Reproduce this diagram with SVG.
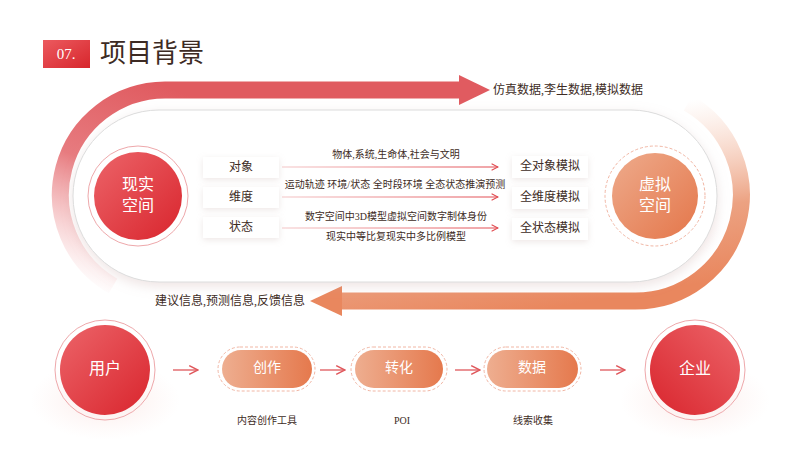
<svg xmlns="http://www.w3.org/2000/svg" width="800" height="450" viewBox="0 0 800 450">
  <defs>
    <linearGradient id="gRed" x1="0" y1="0" x2="1" y2="1">
      <stop offset="0" stop-color="#ec6469"/>
      <stop offset="1" stop-color="#d9252d"/>
    </linearGradient>
    <linearGradient id="gRedR" x1="1" y1="0" x2="0" y2="1">
      <stop offset="0" stop-color="#ec6469"/>
      <stop offset="1" stop-color="#d9252d"/>
    </linearGradient>
    <linearGradient id="gOrange" x1="0" y1="0" x2="1" y2="1">
      <stop offset="0" stop-color="#eeab8c"/>
      <stop offset="1" stop-color="#e4764a"/>
    </linearGradient>
    <linearGradient id="gPill" x1="0" y1="0" x2="1" y2="0">
      <stop offset="0" stop-color="#eeae90"/>
      <stop offset="1" stop-color="#e5794d"/>
    </linearGradient>
    <linearGradient id="gTag" x1="0" y1="0" x2="1" y2="1">
      <stop offset="0" stop-color="#ec5a5f"/>
      <stop offset="1" stop-color="#d7262c"/>
    </linearGradient>
    <linearGradient id="gTopBand" gradientUnits="userSpaceOnUse" x1="95" y1="292" x2="175" y2="90">
      <stop offset="0" stop-color="#f4b4b6" stop-opacity="0"/>
      <stop offset="0.55" stop-color="#e77b7f"/>
      <stop offset="1" stop-color="#e05b60"/>
    </linearGradient>
    <linearGradient id="gBotBand" gradientUnits="userSpaceOnUse" x1="690" y1="100" x2="720" y2="280">
      <stop offset="0" stop-color="#f6c7b2" stop-opacity="0"/>
      <stop offset="0.6" stop-color="#eca282"/>
      <stop offset="1" stop-color="#e9875e"/>
    </linearGradient>
    <linearGradient id="gLine" gradientUnits="userSpaceOnUse" x1="282" y1="0" x2="498" y2="0">
      <stop offset="0" stop-color="#f4c6c7"/>
      <stop offset="1" stop-color="#e1484e"/>
    </linearGradient>
    <radialGradient id="gGlow">
      <stop offset="0" stop-color="#f7d3d0" stop-opacity="0.5"/>
      <stop offset="1" stop-color="#fbe3e0" stop-opacity="0"/>
    </radialGradient>
    <filter id="fShadow" x="-10%" y="-20%" width="120%" height="150%">
      <feDropShadow dx="0" dy="4" stdDeviation="6" flood-color="#c9a9a6" flood-opacity="0.3"/>
    </filter>
    <filter id="fBox" x="-20%" y="-40%" width="140%" height="200%">
      <feDropShadow dx="0" dy="2" stdDeviation="3" flood-color="#c8b0ae" flood-opacity="0.3"/>
    </filter>
    <marker id="mArrow" viewBox="0 0 10 10" refX="9" refY="5" markerWidth="8" markerHeight="8" markerUnits="userSpaceOnUse" orient="auto">
      <path d="M1 1 L9 5 L1 9" fill="none" stroke="#e0474d" stroke-width="1.3"/>
    </marker>
    <marker id="mArrow2" viewBox="0 0 10 10" refX="9" refY="5" markerWidth="11" markerHeight="11" markerUnits="userSpaceOnUse" orient="auto">
      <path d="M1 1 L9 5 L1 9" fill="none" stroke="#e0585c" stroke-width="1.3"/>
    </marker>
  </defs>
  <style>
    .t { font-family: "Liberation Serif", "Noto Sans CJK SC", serif; fill: #3d2b24; }
    .w { font-family: "Liberation Serif", "Noto Sans CJK SC", serif; fill: #ffffff; }
    .box { fill: #ffffff; filter: url(#fBox); }
    .ring { fill: none; stroke: #eea8ab; stroke-width: 1; }
    .dring { fill: none; stroke: #f1b6a4; stroke-width: 1; stroke-dasharray: 3 2; }
    .ln { stroke: url(#gLine); stroke-width: 1.2; fill: none; marker-end: url(#mArrow); }
    .sh { stroke: #e36e72; stroke-width: 1.5; fill: none; marker-end: url(#mArrow2); }
  </style>

  <rect width="800" height="450" fill="#ffffff"/>

  <!-- title -->
  <g id="title">
    <rect x="43" y="40" width="47" height="28" fill="url(#gTag)"/>
    <text class="w" x="66" y="59" font-size="15" text-anchor="middle">07.</text>
    <text class="t" x="100" y="62" font-size="26">项目背景</text>
  </g>

  <!-- glows -->
  <g id="glows">
    <ellipse cx="140" cy="225" rx="70" ry="45" fill="url(#gGlow)"/>
    <ellipse cx="655" cy="225" rx="70" ry="45" fill="url(#gGlow)"/>
    <ellipse cx="105" cy="400" rx="75" ry="40" fill="url(#gGlow)"/>
    <ellipse cx="695" cy="400" rx="75" ry="40" fill="url(#gGlow)"/>
  </g>

  <!-- big flow bands -->
  <g id="flow-top">
    <path d="M113 286 A105 105 0 0 1 165 90 L460 90" fill="none" stroke="url(#gTopBand)" stroke-width="17"/>
    <polygon points="459,75 490,90 459,105" fill="#e05b60"/>
    <text class="t" x="493" y="91" font-size="12" dominant-baseline="middle">仿真数据,李生数据,模拟数据</text>
  </g>
  <g id="flow-bottom">
    <path d="M688 103 A106 106 0 0 1 635 301 L341 301" fill="none" stroke="url(#gBotBand)" stroke-width="17"/>
    <polygon points="342,286 310,301 342,316" fill="#e9875e"/>
    <text class="t" x="305" y="302" font-size="12" text-anchor="end" dominant-baseline="middle">建议信息,预测信息,反馈信息</text>
  </g>

  <!-- inner stadium -->
  <g id="panel">
    <rect x="73" y="110" width="644" height="172" rx="86" fill="#ffffff" stroke="#dcdcdc" stroke-width="1" filter="url(#fShadow)"/>
  </g>

  <!-- real space -->
  <g id="real-space">
    <circle cx="138" cy="196" r="50" class="ring"/>
    <circle cx="138" cy="196" r="44" fill="url(#gRed)"/>
    <text class="w" x="138" y="186" font-size="16" text-anchor="middle" dominant-baseline="middle">现实</text>
    <text class="w" x="138" y="207" font-size="16" text-anchor="middle" dominant-baseline="middle">空间</text>
  </g>

  <!-- virtual space -->
  <g id="virtual-space">
    <circle cx="655" cy="196" r="50" class="dring"/>
    <circle cx="655" cy="196" r="43" fill="url(#gOrange)"/>
    <text class="w" x="655" y="186" font-size="16" text-anchor="middle" dominant-baseline="middle">虚拟</text>
    <text class="w" x="655" y="207" font-size="16" text-anchor="middle" dominant-baseline="middle">空间</text>
  </g>

  <!-- left tags -->
  <g id="tag-object">
    <rect class="box" x="203" y="157" width="76" height="21"/>
    <text class="t" x="241" y="168" font-size="12" text-anchor="middle" dominant-baseline="middle">对象</text>
  </g>
  <g id="tag-dimension">
    <rect class="box" x="203" y="187" width="76" height="21"/>
    <text class="t" x="241" y="198" font-size="12" text-anchor="middle" dominant-baseline="middle">维度</text>
  </g>
  <g id="tag-state">
    <rect class="box" x="203" y="217" width="76" height="21"/>
    <text class="t" x="241" y="228" font-size="12" text-anchor="middle" dominant-baseline="middle">状态</text>
  </g>

  <!-- right tags -->
  <g id="full-object">
    <rect class="box" x="512" y="156" width="76" height="22"/>
    <text class="t" x="550" y="167" font-size="12" text-anchor="middle" dominant-baseline="middle">全对象模拟</text>
  </g>
  <g id="full-dimension">
    <rect class="box" x="512" y="187" width="76" height="22"/>
    <text class="t" x="550" y="198" font-size="12" text-anchor="middle" dominant-baseline="middle">全维度模拟</text>
  </g>
  <g id="full-state">
    <rect class="box" x="512" y="218" width="76" height="22"/>
    <text class="t" x="550" y="229" font-size="12" text-anchor="middle" dominant-baseline="middle">全状态模拟</text>
  </g>

  <!-- bottom nodes -->
  <g id="user">
    <circle cx="105" cy="370" r="50" class="ring"/>
    <circle cx="105" cy="370" r="45" fill="url(#gRed)"/>
    <text class="w" x="105" y="370" font-size="16" text-anchor="middle" dominant-baseline="middle">用户</text>
  </g>
  <g id="create">
    <rect x="218" y="347" width="97" height="44" rx="22" class="dring"/>
    <rect x="222" y="350" width="90" height="38" rx="19" fill="url(#gPill)"/>
    <text class="w" x="267" y="369" font-size="14" text-anchor="middle" dominant-baseline="middle">创作</text>
    <text class="t" x="267" y="422" font-size="10" text-anchor="middle" dominant-baseline="middle">内容创作工具</text>
  </g>
  <g id="convert">
    <rect x="351" y="347" width="96" height="44" rx="22" class="dring"/>
    <rect x="355" y="350" width="88" height="38" rx="19" fill="url(#gPill)"/>
    <text class="w" x="399" y="369" font-size="14" text-anchor="middle" dominant-baseline="middle">转化</text>
    <text class="t" x="402" y="422" font-size="10" text-anchor="middle" dominant-baseline="middle">POI</text>
  </g>
  <g id="data">
    <rect x="484" y="347" width="97" height="44" rx="22" class="dring"/>
    <rect x="487" y="350" width="91" height="38" rx="19" fill="url(#gPill)"/>
    <text class="w" x="532" y="369" font-size="14" text-anchor="middle" dominant-baseline="middle">数据</text>
    <text class="t" x="533" y="422" font-size="10" text-anchor="middle" dominant-baseline="middle">线索收集</text>
  </g>
  <g id="enterprise">
    <circle cx="695" cy="370" r="50" class="ring"/>
    <circle cx="695" cy="370" r="45" fill="url(#gRedR)"/>
    <text class="w" x="695" y="370" font-size="16" text-anchor="middle" dominant-baseline="middle">企业</text>
  </g>

  <!-- connectors -->
  <g id="connectors">
    <line class="ln" x1="282" y1="167" x2="498" y2="167"/>
    <line class="ln" x1="282" y1="197" x2="498" y2="197"/>
    <line class="ln" x1="282" y1="228" x2="498" y2="228"/>
    <text class="t" x="396" y="156" font-size="10" text-anchor="middle" dominant-baseline="middle">物体,系统,生命体,社会与文明</text>
    <text class="t" x="395" y="186" font-size="10" text-anchor="middle" dominant-baseline="middle">运动轨迹 环境/状态 全时段环境 全态状态推演预测</text>
    <text class="t" x="396" y="218" font-size="10" text-anchor="middle" dominant-baseline="middle">数字空间中3D模型虚拟空间数字制体身份</text>
    <text class="t" x="396" y="238" font-size="10" text-anchor="middle" dominant-baseline="middle">现实中等比复现实中多比例模型</text>
    <line class="sh" x1="173" y1="370" x2="198" y2="370"/>
    <line class="sh" x1="320" y1="370" x2="345" y2="370"/>
    <line class="sh" x1="455" y1="370" x2="480" y2="370"/>
    <line class="sh" x1="600" y1="370" x2="625" y2="370"/>
  </g>
</svg>
